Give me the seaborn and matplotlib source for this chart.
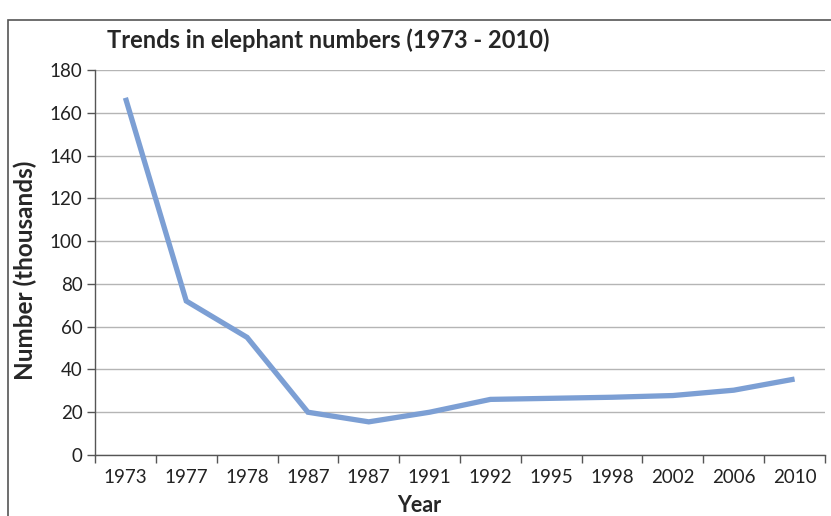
import numpy as np
import pandas as pd
import matplotlib
matplotlib.use("Agg")
import matplotlib.pyplot as plt
import seaborn as sns
from matplotlib.patches import Rectangle

# data (note the repeated 1987 label)
years = ["1973", "1977", "1978", "1987", "1987", "1991",
         "1992", "1995", "1998", "2002", "2006", "2010"]
numbers = [167, 72, 55, 20, 15.5, 20, 26, 26.5, 27, 27.8, 30.3, 35.5]
y_ticks = [0, 20, 40, 60, 80, 100, 120, 140, 160, 180]

sns.set_theme(style="white")
plt.rcParams["font.family"] = ["Lato", "DejaVu Sans"]

df = pd.DataFrame({"pos": np.arange(len(years)), "number": numbers})

fig = plt.figure(figsize=(8.31, 5.16), dpi=100)
ax = fig.add_axes([95 / 831, 1 - 455 / 516, 730 / 831, 385 / 516])

sns.lineplot(data=df, x="pos", y="number", ax=ax, color="#7c9fd4",
             linewidth=3.8, solid_joinstyle="miter", solid_capstyle="butt")

ax.set_xlim(-0.5, len(years) - 0.5)
ax.set_ylim(0, 180)
ax.set_yticks(y_ticks)
ax.set_yticklabels([str(t) for t in y_ticks], fontsize=13.5, color="#222222")
ax.yaxis.grid(True, color="#b5b5b5", linewidth=1)
ax.set_axisbelow(True)

# ticks between categories, labels at the category centres
ax.set_xticks(np.arange(-0.5, len(years)))
ax.set_xticklabels([])
ax.set_xticks(np.arange(len(years)), minor=True)
ax.set_xticklabels(years, minor=True, fontsize=13.5, color="#222222")
ax.tick_params(axis="x", which="major", length=6, width=1, color="#555555",
               direction="out", bottom=True)
ax.tick_params(axis="x", which="minor", length=0, pad=10, bottom=True)
ax.tick_params(axis="y", length=6, width=1, color="#555555", left=True, pad=3)

for side in ["top", "right"]:
    ax.spines[side].set_visible(False)
for side in ["left", "bottom"]:
    ax.spines[side].set_color("#555555")
    ax.spines[side].set_linewidth(1)

ax.set_xlabel("Year", fontsize=15.5, fontweight="bold", va="center")
ax.xaxis.set_label_coords((419 - 95) / 730, (455 - 505) / 385)
ax.set_ylabel("Number (thousands)", fontsize=17.5, fontweight="bold", va="center")
ax.yaxis.set_label_coords((25 - 95) / 730, (455 - 270) / 385)

fig.text(107 / 831, 1 - 40 / 516, "Trends in elephant numbers (1973 - 2010)",
         fontsize=17, fontweight="bold", va="center", ha="left")

# outer chart frame
fig.patches.append(Rectangle((8 / 831, -0.1), 1.2, 1 - 20 / 516 + 0.1,
                             transform=fig.transFigure, fill=False,
                             edgecolor="#555555", linewidth=1.2))

fig.savefig("out.png", dpi=100)
